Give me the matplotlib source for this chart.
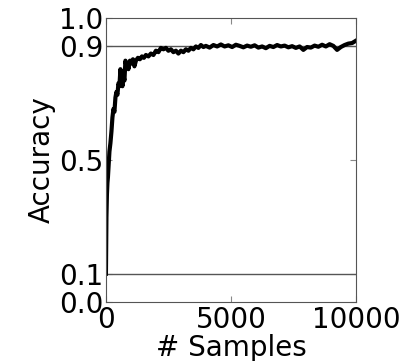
import matplotlib.pyplot as plt

samples = [0, 20, 40, 60, 80, 100, 140, 180, 220, 260, 300, 340, 380, 420, 460,
           500, 540, 580, 620, 660, 700, 740, 780, 820, 860, 900, 960, 1020,
           1080, 1140, 1200, 1280, 1360, 1440, 1520, 1600, 1700, 1800, 1900,
           2000, 2100, 2200, 2300, 2400, 2500, 2600, 2700, 2800, 2900, 3000,
           3100, 3200, 3300, 3400, 3500, 3600, 3700, 3800, 3900, 4000, 4150,
           4300, 4450, 4600, 4750, 4900, 5050, 5200, 5350, 5500, 5650, 5800,
           5950, 6100, 6250, 6400, 6550, 6700, 6850, 7000, 7150, 7300, 7450,
           7600, 7750, 7900, 8050, 8200, 8350, 8500, 8650, 8800, 8950, 9100,
           9250, 9400, 9550, 9700, 9850, 10000]
accuracy = [0.10, 0.30, 0.38, 0.42, 0.44, 0.47, 0.53, 0.56, 0.60, 0.65, 0.68,
            0.67, 0.72, 0.74, 0.73, 0.77, 0.76, 0.82, 0.79, 0.76, 0.80, 0.78,
            0.85, 0.83, 0.84, 0.82, 0.85, 0.84, 0.855, 0.83, 0.85, 0.86, 0.855,
            0.865, 0.86, 0.87, 0.865, 0.875, 0.87, 0.885, 0.88, 0.895, 0.89,
            0.895, 0.885, 0.89, 0.88, 0.885, 0.875, 0.885, 0.88, 0.89, 0.885,
            0.895, 0.89, 0.90, 0.895, 0.905, 0.898, 0.902, 0.896, 0.905, 0.90,
            0.907, 0.90, 0.904, 0.898, 0.906, 0.902, 0.897, 0.903, 0.899, 0.904,
            0.896, 0.90, 0.894, 0.902, 0.898, 0.905, 0.90, 0.903, 0.897, 0.901,
            0.895, 0.90, 0.888, 0.898, 0.896, 0.903, 0.899, 0.906, 0.90, 0.908,
            0.902, 0.888, 0.898, 0.905, 0.91, 0.912, 0.92]

yticks = [0.0, 0.1, 0.5, 0.9, 1.0]
xticks = [0, 5000, 10000]
guides = [0.1, 0.9]

fig = plt.figure(figsize=(4.09, 3.61), dpi=100)
ax = fig.add_axes([0.259, 0.163, 0.611, 0.787])
for g in guides:
    ax.axhline(g, color="#555555", lw=1)
ax.plot(samples, accuracy, color="black", lw=3)
ax.set_xlim(0, 10000)
ax.set_ylim(0, 1)
ax.set_xticks(xticks)
ax.set_yticks(yticks)
ax.set_yticklabels(["0.0", "0.1", "0.5", "0.9", "1.0"])
ax.tick_params(direction="in", length=4, color="#888888", labelsize=20,
               top=True, right=True, pad=2)
ax.tick_params(axis="x", pad=3)
for s in ax.spines.values():
    s.set_color("#555555")
ax.set_xlabel("# Samples", fontsize=20, labelpad=0)
ax.set_ylabel("Accuracy", fontsize=20, labelpad=2)
fig.savefig("out.png", dpi=100)
